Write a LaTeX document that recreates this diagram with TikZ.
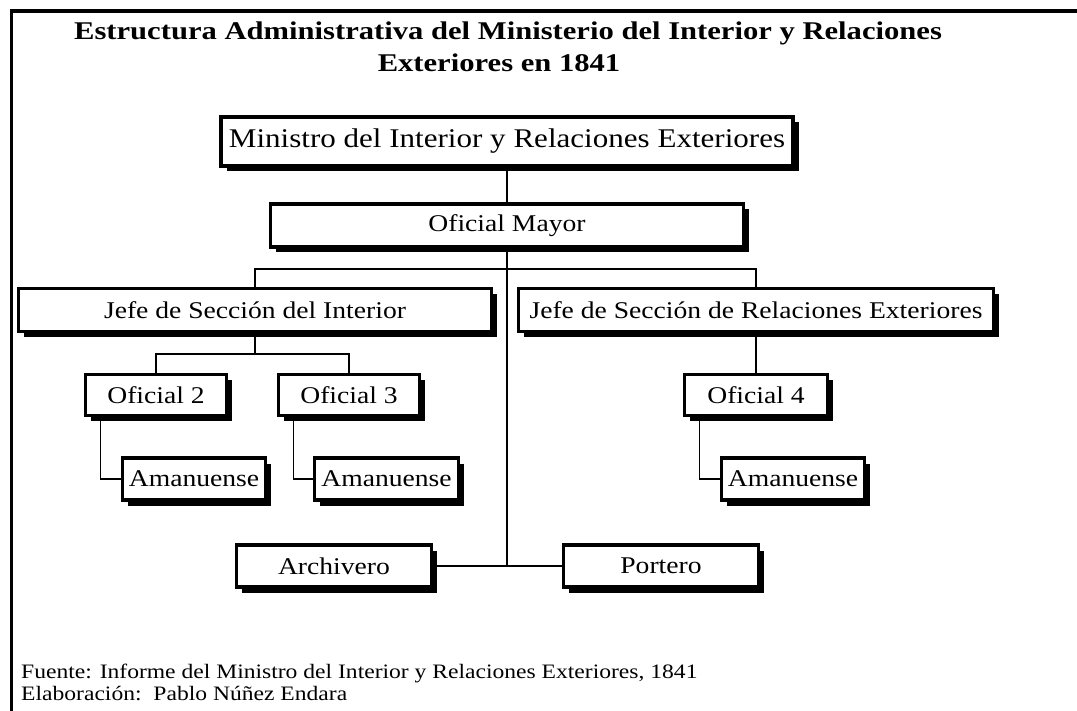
\documentclass[tikz,border=0pt]{standalone}
\usepackage{fontspec}
\setmainfont[FakeStretch=1.15]{Liberation Serif}
\newfontfamily\titulofont[FakeStretch=1.2]{Liberation Serif}
\usetikzlibrary{shadows}

\begin{document}
\begin{tikzpicture}[x=1pt, y=-1pt, cargo/.style={rectangle, draw, line width=3.5pt, fill=white, inner sep=0pt, minimum height=43pt, drop shadow={shadow xshift=5.5pt, shadow yshift=-5.5pt, opacity=1, fill=black}, font=\fontsize{24}{28}\selectfont}, line/.style={line width=1.2pt}, frame/.style={line width=3.5pt}, titulo/.style={font=\titulofont\bfseries\fontsize{25.5}{30}\selectfont, inner sep=0pt}, fuente/.style={anchor=base west, inner sep=0pt, font=\fontsize{20.5}{24}\selectfont}]
\useasboundingbox (0,0) rectangle (1077,711);
\draw [frame] (11.5,711) -- (11.5,11) -- (1077,11);
\node [titulo] (titulo1) at (508,33) {Estructura Administrativa del Ministerio del Interior y Relaciones};
\node [titulo] (titulo2) at (499,63) {Exteriores en 1841};
\node [cargo, minimum width=572pt, minimum height=49pt, font=\fontsize{27}{31}\selectfont] (ministro) at (507,141.5) {Ministro del Interior y Relaciones Exteriores};
\node [cargo, minimum width=473pt] (mayor) at (507,225.5) {Oficial Mayor};
\node [cargo, minimum width=473pt] (jefeI) at (255,310) {Jefe de Sección del Interior};
\node [cargo, minimum width=475pt] (jefeR) at (756,310) {Jefe de Sección de Relaciones Exteriores};
\node [cargo, minimum width=141pt, minimum height=41pt] (of2) at (156,395) {Oficial 2};
\node [cargo, minimum width=141pt, minimum height=41pt] (of3) at (349,395) {Oficial 3};
\node [cargo, minimum width=143pt, minimum height=41pt] (of4) at (756,395) {Oficial 4};
\node [cargo, minimum width=143pt, minimum height=42pt] (am1) at (194,479) {Amanuense};
\node [cargo, minimum width=144pt, minimum height=42pt] (am2) at (386.5,479) {Amanuense};
\node [cargo, minimum width=143pt, minimum height=42pt] (am3) at (793,479) {Amanuense};
\node [cargo, minimum width=195pt, minimum height=42pt] (archivero) at (334,566) {Archivero};
\node [cargo, minimum width=195pt, minimum height=42pt] (portero) at (661,566) {Portero};
\coordinate (bus) at (507,269);
\coordinate (ramaI) at (255,354);
\coordinate (cruce) at (507,566);
\draw [line] (ministro) -- (mayor);
\draw [line] (mayor) -- (bus);
\draw [line] (jefeI.north) |- (bus) -| (jefeR.north);
\draw [line] (bus) -- (cruce);
\draw [line] (archivero) -- (portero);
\draw [line] (jefeI) -- (ramaI);
\draw [line] (of2.north) |- (ramaI) -| (of3.north);
\draw [line] (jefeR) -- (of4);
\draw [line] ([xshift=17pt]of2.south west) |- (am1.west);
\draw [line] ([xshift=17pt]of3.south west) |- (am2.west);
\draw [line] ([xshift=17pt]of4.south west) |- (am3.west);
\node [fuente] (fuente) at (21,678) {Fuente: Informe del Ministro del Interior y Relaciones Exteriores, 1841};
\node [fuente] (elaboracion) at (21,700) {Elaboración:\ \ Pablo Núñez Endara};
\end{tikzpicture}
\end{document}
